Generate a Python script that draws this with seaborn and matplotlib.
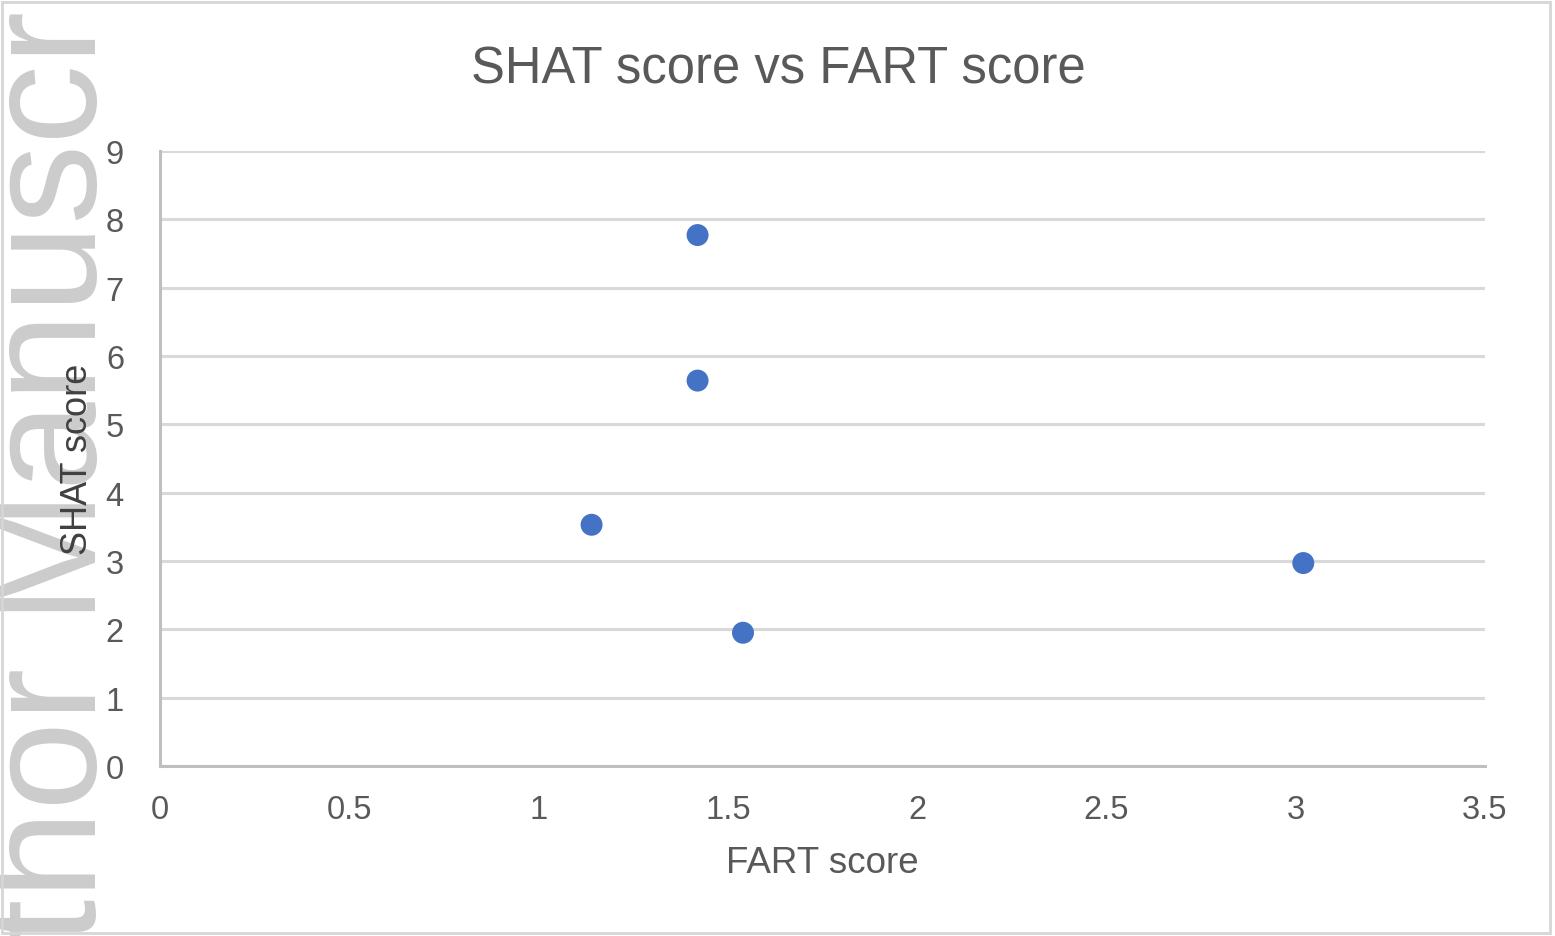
import numpy as np
import pandas as pd
import matplotlib.pyplot as plt
import seaborn as sns
from matplotlib.patches import Rectangle

# data
fart_score = [1.42, 1.42, 1.14, 1.54, 3.02]
shat_score = [7.77, 5.64, 3.53, 1.95, 2.97]
x_ticks = [0, 0.5, 1, 1.5, 2, 2.5, 3, 3.5]
x_tick_labels = ['0', '0.5', '1', '1.5', '2', '2.5', '3', '3.5']
y_ticks = list(range(0, 10))

df = pd.DataFrame({'FART score': fart_score, 'SHAT score': shat_score})

sns.set_style('white')
plt.rcParams['font.family'] = ['Liberation Sans', 'DejaVu Sans']

W, H = 1555, 937
fig = plt.figure(figsize=(W / 100, H / 100), dpi=100)
ax = fig.add_axes([160 / W, 1 - 767 / H, (1485 - 160) / W, (767 - 152) / H])
ax.set_zorder(2)

# faint watermark on the left edge
fig.text(96 / W, -6 / H, 'thor Manuscr', rotation=90, rotation_mode='anchor',
         ha='left', va='baseline', fontsize=115, color='#cccccc', zorder=0)

sns.scatterplot(data=df, x='FART score', y='SHAT score', ax=ax, s=250,
                color='#4472C4', edgecolor='none', zorder=3)

ax.set_xlim(0, 3.5)
ax.set_ylim(0, 9)
ax.set_xticks(x_ticks)
ax.set_xticklabels(x_tick_labels)
ax.set_yticks(y_ticks)
ax.patch.set_alpha(0)
ax.yaxis.grid(True, color='#d9d9d9', linewidth=2.2)
ax.xaxis.grid(False)
ax.tick_params(axis='both', length=0, labelsize=23.5, labelcolor='#595959')
ax.tick_params(axis='x', pad=20)
ax.tick_params(axis='y', pad=26)
for side in ['top', 'right']:
    ax.spines[side].set_visible(False)
ax.spines['left'].set_color('#bfbfbf')
ax.spines['left'].set_linewidth(2.2)
ax.spines['bottom'].set_color('#bfbfbf')
ax.spines['bottom'].set_linewidth(2.2)

ax.set_xlabel('FART score', fontsize=26.5, color='#595959')
ax.xaxis.set_label_coords(0.5, -(846 - 767) / (767 - 152))
ax.set_ylabel('SHAT score', fontsize=26, color='#404040')
ax.yaxis.set_label_coords(-(160 - 95) / (1485 - 160), 0.5)

fig.text(778 / W, 1 - 70 / H, 'SHAT score vs FART score', ha='center', va='center',
         fontsize=36.5, color='#595959')

# thin frame round the image
fig.patches.append(Rectangle((2 / W, 3 / H), (1550 - 2) / W, (934 - 3) / H,
                             transform=fig.transFigure, fill=False,
                             edgecolor='#d6d6d6', linewidth=2))

fig.savefig('out.png', dpi=100)
